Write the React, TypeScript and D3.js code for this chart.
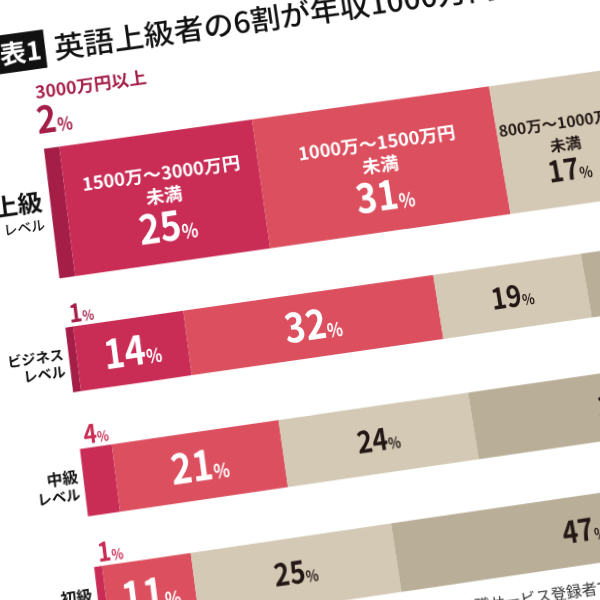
import React from 'react';
import * as d3 from 'd3';

// ---- data ----
const levels = ['上級', 'ビジネス', '中級', '初級'];
const levelSuffix = ['レベル', 'レベル', 'レベル', 'レベル'];
const bands = [
  '3000万円以上',
  '1500万～3000万円未満',
  '1000万～1500万円未満',
  '800万～1000万円未満',
  '600万～800万円未満',
  '600万円未満',
];
const over3000 = [2, 1, 0, 0];
const from1500 = [25, 14, 4, 1];
const from1000 = [31, 32, 21, 11];
const from800 = [17, 19, 24, 25];
const from600 = [14, 20, 37, 47];
const under600 = [11, 14, 14, 16];
const titleTag = '表1';
const titleText = '英語上級者の6割が年収1000万円以上';
const footnote = '※転職サービス登録者で英語力を回答した人の年収分布';

// ---- style / layout ----
const series = [over3000, from1500, from1000, from800, from600, under600];
const colors = ['#a41e48', '#c92c55', '#dc4f5e', '#d3c9b4', '#b9ae97', '#cbc2b0'];
const darkText = '#231815';
const FONT = "'Noto Sans CJK JP', 'Noto Sans', sans-serif";
const L = 64.5;
const PX = 7.9;
const rowTop = [110, 294, 415, 530];
const rowH = [134, 65, 66, 66];

export default function App() {
  const x = d3.scaleLinear().domain([0, 100]).range([L, L + 100 * PX]);
  const marks: React.ReactNode[] = [];
  const labels: React.ReactNode[] = [];

  levels.forEach((lv, i) => {
    const top = rowTop[i];
    const h = rowH[i];
    const c = top + h / 2;
    const stack = d3.cumsum(series.map((s) => s[i]));
    series.forEach((s, j) => {
      const v = s[i];
      if (!v) return;
      const x0 = x(stack[j] - v);
      const x1 = x(stack[j]);
      marks.push(
        <rect key={`r${i}-${j}`} x={x0} y={top} width={x1 - x0} height={h} fill={colors[j]} />
      );
      const isWhite = j <= 2;
      const fill = isWhite ? '#fff' : darkText;
      if (v < 5) {
        if (i === 0) {
          labels.push(
            <text key={`bn${i}-${j}`} x={L - 2} y={top - 53} fontSize={18} fontWeight={700} fill={colors[j]} fontFamily={FONT}>
              {bands[j]}
            </text>
          );
          labels.push(
            <text key={`t${i}-${j}`} transform={`translate(${L - 4},${top - 16}) scale(0.86,1)`} fontSize={40} fontWeight={700} fill={colors[j]} fontFamily={FONT}>
              {v}
              <tspan fontSize={19}>%</tspan>
            </text>
          );
        } else {
          labels.push(
            <text key={`t${i}-${j}`} transform={`translate(${L + 5},${top - 4}) scale(0.86,1)`} fontSize={26} fontWeight={700} fill={colors[j]} fontFamily={FONT}>
              {v}
              <tspan fontSize={14}>%</tspan>
            </text>
          );
        }
        return;
      }
      const cx = (x0 + x1) / 2;
      if (i === 0) {
        const bandSize = isWhite ? 18.5 : 16;
        const b1 = isWhite ? 49 : 54;
        const name = bands[j];
        const l1 = name.endsWith('未満') ? name.slice(0, -2) : name;
        const l2 = name.endsWith('未満') ? '未満' : '';
        labels.push(
          <text key={`b1${i}-${j}`} x={cx} y={top + b1} textAnchor="middle" fontSize={bandSize} fontWeight={700} fill={fill} fontFamily={FONT}>
            {l1}
          </text>
        );
        if (l2)
          labels.push(
            <text key={`b2${i}-${j}`} x={cx} y={top + b1 + 23} textAnchor="middle" fontSize={bandSize} fontWeight={700} fill={fill} fontFamily={FONT}>
              {l2}
            </text>
          );
        const fs = isWhite ? 42 : 31;
        labels.push(
          <text key={`t${i}-${j}`} transform={`translate(${cx},${top + 97 + 0.36 * fs}) scale(0.86,1)`} textAnchor="middle" fontSize={fs} fontWeight={700} fill={fill} fontFamily={FONT}>
            {v}
            <tspan fontSize={isWhite ? 20 : 16}>%</tspan>
          </text>
        );
      } else {
        const fs = isWhite ? 41 : 30;
        labels.push(
          <text key={`t${i}-${j}`} transform={`translate(${cx},${c + 0.36 * fs}) scale(0.86,1)`} textAnchor="middle" fontSize={fs} fontWeight={700} fill={fill} fontFamily={FONT}>
            {v}
            <tspan fontSize={isWhite ? 19 : 15}>%</tspan>
          </text>
        );
      }
    });

    if (i === 0) {
      labels.push(
        <text key={`cat${i}`} x={L - 8} y={c - 4} textAnchor="end" fontSize={25} fontWeight={700} fill="#111" fontFamily={FONT}>
          {lv}
        </text>
      );
      labels.push(
        <text key={`sub${i}`} x={L - 8} y={c + 16} textAnchor="end" fontSize={14} fontWeight={500} fill="#111" fontFamily={FONT}>
          {levelSuffix[i]}
        </text>
      );
    } else {
      labels.push(
        <text key={`cat${i}`} x={L - 5} y={c - 1} textAnchor="end" fontSize={lv.length > 2 ? 14 : 15.5} fontWeight={700} fill="#111" fontFamily={FONT}>
          {lv}
        </text>
      );
      labels.push(
        <text key={`sub${i}`} x={L - 5} y={c + 16} textAnchor="end" fontSize={14} fontWeight={700} fill="#111" fontFamily={FONT}>
          {levelSuffix[i]}
        </text>
      );
    }
  });

  return (
    <div style={{ position: 'fixed', left: 0, top: 0, width: 600, height: 600, overflow: 'hidden', background: '#fff' }}>
      <svg
        width={600}
        height={600}
        viewBox="0 0 600 600"
        style={{
          position: 'absolute',
          left: 0,
          top: 0,
          overflow: 'visible',
          transform: 'perspective(1000px) rotateX(6deg)',
          transformOrigin: '300px 300px',
        }}
      >
        <g transform="rotate(-8.2 300 300)">
          <rect x={-60} y={-15} width={138} height={41} fill="#111" />
          <text x={74} y={16} textAnchor="end" fontSize={27} fontWeight={700} fill="#fff" fontFamily={FONT}>
            {titleTag}
          </text>
          <text x={87} y={18} fontSize={31} fontWeight={500} fill="#111" fontFamily={FONT}>
            {titleText}
          </text>
          {marks}
          {labels}
          <text x={395} y={625} fontSize={15} fill="#333" fontFamily={FONT}>
            {footnote}
          </text>
        </g>
      </svg>
    </div>
  );
}
